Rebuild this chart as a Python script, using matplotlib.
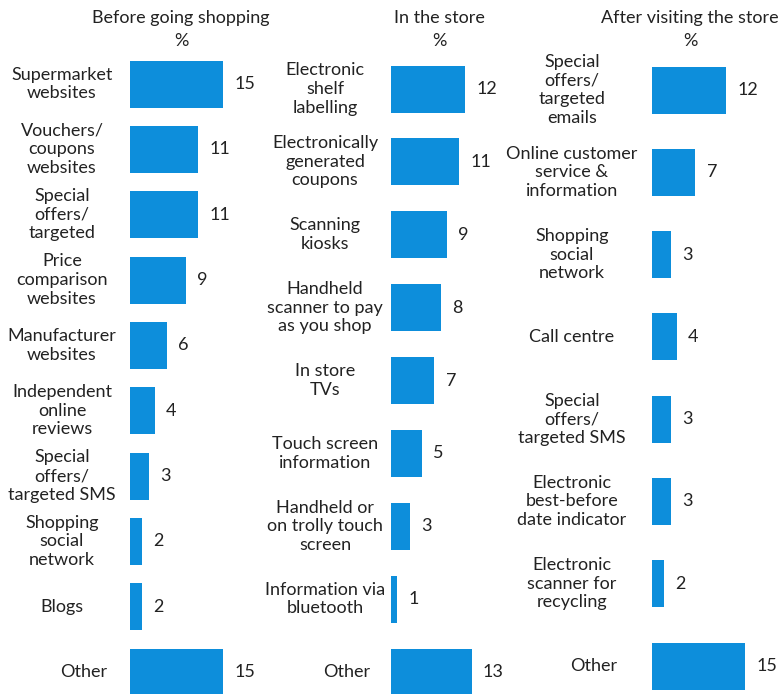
import matplotlib
matplotlib.use("Agg")
import matplotlib.pyplot as plt

plt.rcParams["font.family"] = ["Lato", "DejaVu Sans"]

# data
before_labels = ["Supermarket\nwebsites", "Vouchers/\ncoupons\nwebsites", "Special\noffers/\ntargeted",
                 "Price\ncomparison\nwebsites", "Manufacturer\nwebsites", "Independent\nonline\nreviews",
                 "Special\noffers/\ntargeted SMS", "Shopping\nsocial\nnetwork", "Blogs", "Other"]
before_values = [15, 11, 11, 9, 6, 4, 3, 2, 2, 15]

store_labels = ["Electronic\nshelf\nlabelling", "Electronically\ngenerated\ncoupons", "Scanning\nkiosks",
                "Handheld\nscanner to pay\nas you shop", "In store\nTVs", "Touch screen\ninformation",
                "Handheld or\non trolly touch\nscreen", "Information via\nbluetooth", "Other"]
store_values = [12, 11, 9, 8, 7, 5, 3, 1, 13]

after_labels = ["Special\noffers/\ntargeted\nemails", "Online customer\nservice &\ninformation",
                "Shopping\nsocial\nnetwork", "Call centre", "Special\noffers/\ntargeted SMS",
                "Electronic\nbest-before\ndate indicator", "Electronic\nscanner for\nrecycling", "Other"]
after_values = [12, 7, 3, 4, 3, 3, 2, 15]

titles = ["Before going shopping", "In the store", "After visiting the store"]

W, H = 784, 694
BLUE = "#0d8edb"
TXT = "#222222"
SCALE = 6.2  # px per percent
FS = 13

# layout per panel: bar left px, label center px, first/last bar centre px, title centre px
panels = [
    (before_labels, before_values, 130, 62, 84, 672, 181, titles[0]),
    (store_labels, store_values, 391, 325, 89, 672, 439, titles[1]),
    (after_labels, after_values, 652, 572, 90, 666, 690, titles[2]),
]

fig = plt.figure(figsize=(W / 100, H / 100), dpi=100)

for labels, values, x0, lx, yfirst, ylast, tx, title in panels:
    n = len(values)
    step = (ylast - yfirst) / (n - 1)
    ax = fig.add_axes([0, 0, 1, 1])
    ax.patch.set_alpha(0)
    ax.axis("off")
    ax.set_xlim(-x0 / SCALE, (W - x0) / SCALE)
    ax.set_ylim((H - yfirst) / step, -yfirst / step)
    ax.barh(range(n), values, height=47 / step, color=BLUE)
    for i, (lab, v) in enumerate(zip(labels, values)):
        px = lx + (22 if lab == "Other" else 0)
        ax.text((px - x0) / SCALE, i, lab, ha="center", va="center",
                fontsize=FS, color=TXT, linespacing=1.2)
        ax.annotate(str(v), (v, i), xytext=(8, 0), textcoords="offset points",
                    ha="left", va="center", fontsize=FS, color=TXT)
    fig.text(tx / W, 1 - 18 / H, title, ha="center", va="center", fontsize=FS, color=TXT)
    fig.text(tx / W, 1 - 41 / H, "%", ha="center", va="center", fontsize=FS, color=TXT)

fig.savefig("out.png", dpi=100)
